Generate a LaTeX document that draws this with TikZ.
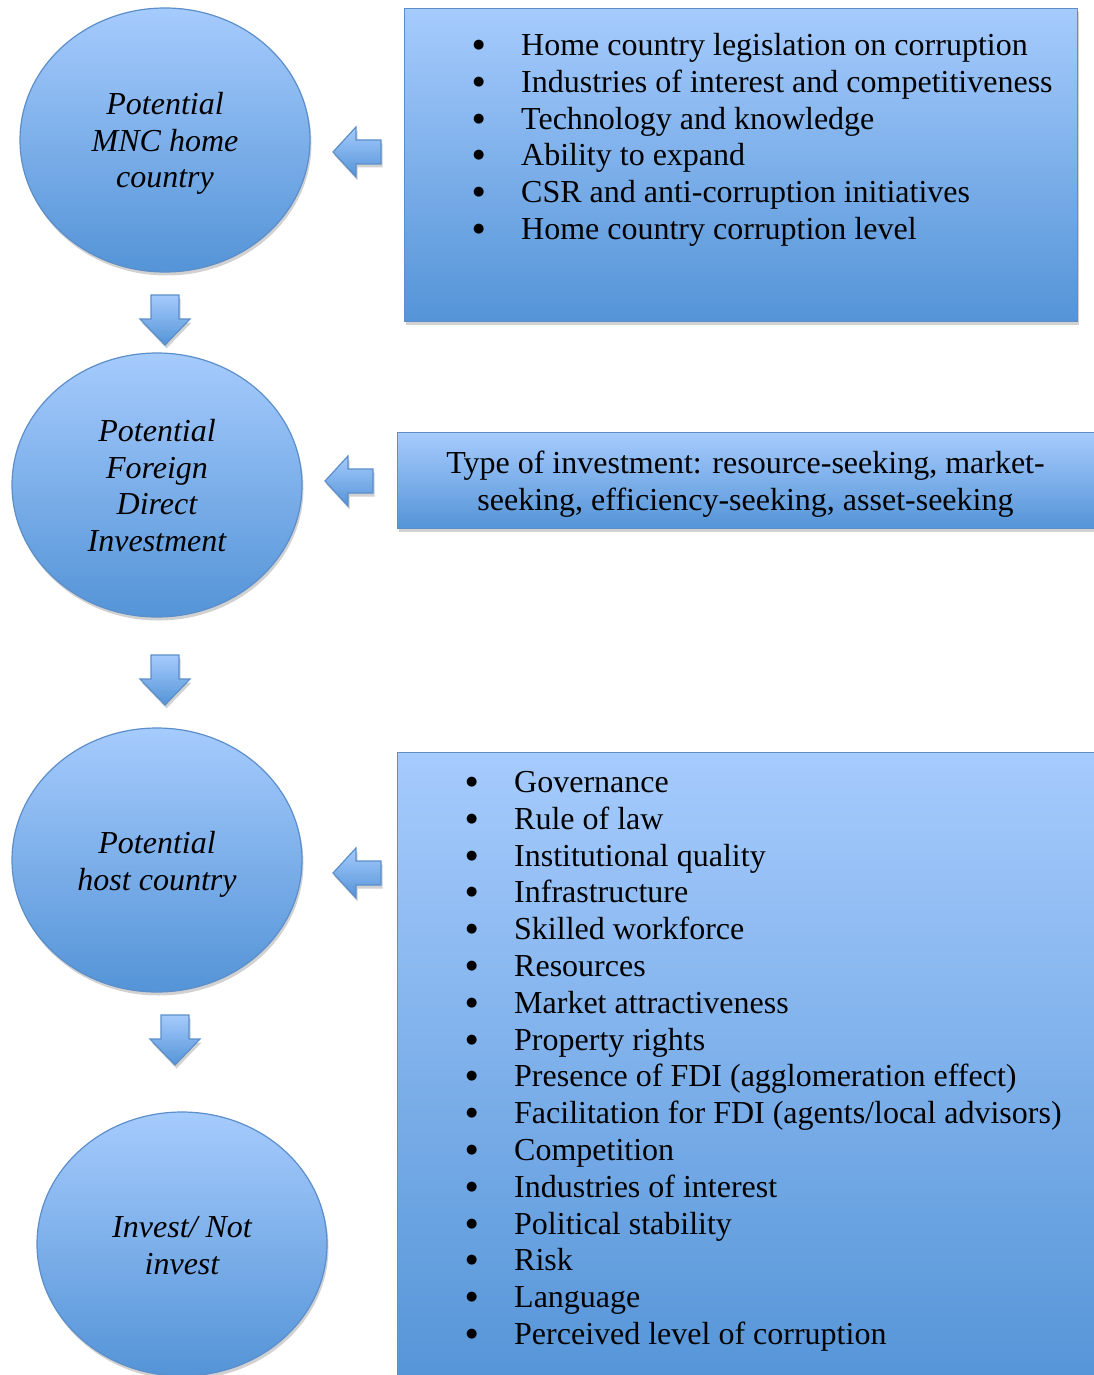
\documentclass[tikz,border=0pt]{standalone}
\usepackage{fontspec}
\setmainfont{Liberation Serif}
\newfontfamily\bulfont{DejaVu Sans}
\usetikzlibrary{shapes.geometric,shadows}
\definecolor{topc}{RGB}{166,203,253}
\definecolor{botc}{RGB}{84,148,215}
\definecolor{edgec}{RGB}{92,142,202}
\tikzset{
 fillshade/.style={top color=topc, bottom color=botc, draw=edgec, line width=1.2pt,
   drop shadow={shadow xshift=1.5pt, shadow yshift=-3.5pt, fill=black, opacity=0.18}},
 blob/.style={fillshade, ellipse, minimum width=290pt, minimum height=264pt, inner sep=0pt},
 panel/.style={fillshade, rectangle, anchor=north west, inner sep=0pt},
 ctext/.style={font=\fontsize{32}{36.8}\selectfont\itshape, align=center, inner sep=0pt},
 itemtext/.style={font=\fontsize{32}{36.8}\selectfont, anchor=base west, inner sep=0pt},
 ptext/.style={font=\fontsize{32}{36.8}\selectfont, align=center, inner sep=0pt},
 barrow/.style={fillshade, line join=miter}
}
\newcommand\bul{\makebox[48pt][l]{\raisebox{7pt}[0pt][0pt]{\bulfont\fontsize{13}{16}\selectfont●}}}
\newcommand\downblock[2]{%
  \path[barrow, shift={(#1,#2)}] (-14,0) -- (14,0) -- (14,24) -- (25,24) -- (0,50) -- (-25,24) -- (-14,24) -- cycle;}
\newcommand\leftblock[2]{%
  \path[barrow, shift={(#1,#2)}] (0,0) -- (23,-25) -- (23,-12) -- (48,-12) -- (48,12) -- (23,12) -- (23,25) -- cycle;}
\begin{document}
\begin{tikzpicture}[x=1pt,y=-1pt]
\useasboundingbox (0,0) rectangle (1094,1375);
% circles
\node[blob] (c1) at (165,140) {};
\node[blob] (c2) at (157,485) {};
\node[blob] (c3) at (157,860) {};
\node[blob] (c4) at (182,1244) {};
\node[ctext] (c1t) at (165,143.5) {Potential\\MNC home\\country};
\node[ctext] (c2t) at (157,485.5) {Potential\\Foreign\\Direct\\Investment};
\node[ctext] (c3t) at (157,864) {Potential\\host country};
\node[ctext] (c4t) at (182,1245.5) {Invest/ Not\\invest};
% panels
\node[panel, minimum width=673pt, minimum height=313pt] (p1) at (404,8) {};
\node[panel, minimum width=710pt, minimum height=96pt] (p2) at (397,432) {};
\node[panel, minimum width=710pt, minimum height=640pt] (p3) at (397,752) {};
\foreach \txt [count=\i from 0] in {Home country legislation on corruption,
  Industries of interest and competitiveness, Technology and knowledge,
  Ability to expand, CSR and anti-corruption initiatives, Home country corruption level}
  {\node[itemtext] (a\i) at (473,{55.5+36.8*\i}) {\bul\txt};}
\node[ptext] (p2t) at (745.5,484.5) {Type of investment: resource-seeking, market-\\seeking, efficiency-seeking, asset-seeking};
\foreach \txt [count=\i from 0] in {Governance, Rule of law, Institutional quality,
  Infrastructure, Skilled workforce, Resources, Market attractiveness, Property rights,
  Presence of FDI (agglomeration effect), Facilitation for FDI (agents/local advisors),
  Competition, Industries of interest, Political stability, Risk, Language,
  Perceived level of corruption}
  {\node[itemtext] (b\i) at (466,{792.5+36.8*\i}) {\bul\txt};}
% block arrows
\downblock{165}{295}
\downblock{165}{655}
\downblock{175}{1015}
\leftblock{333}{152}
\leftblock{325}{481}
\leftblock{333}{873}
\end{tikzpicture}
\end{document}
